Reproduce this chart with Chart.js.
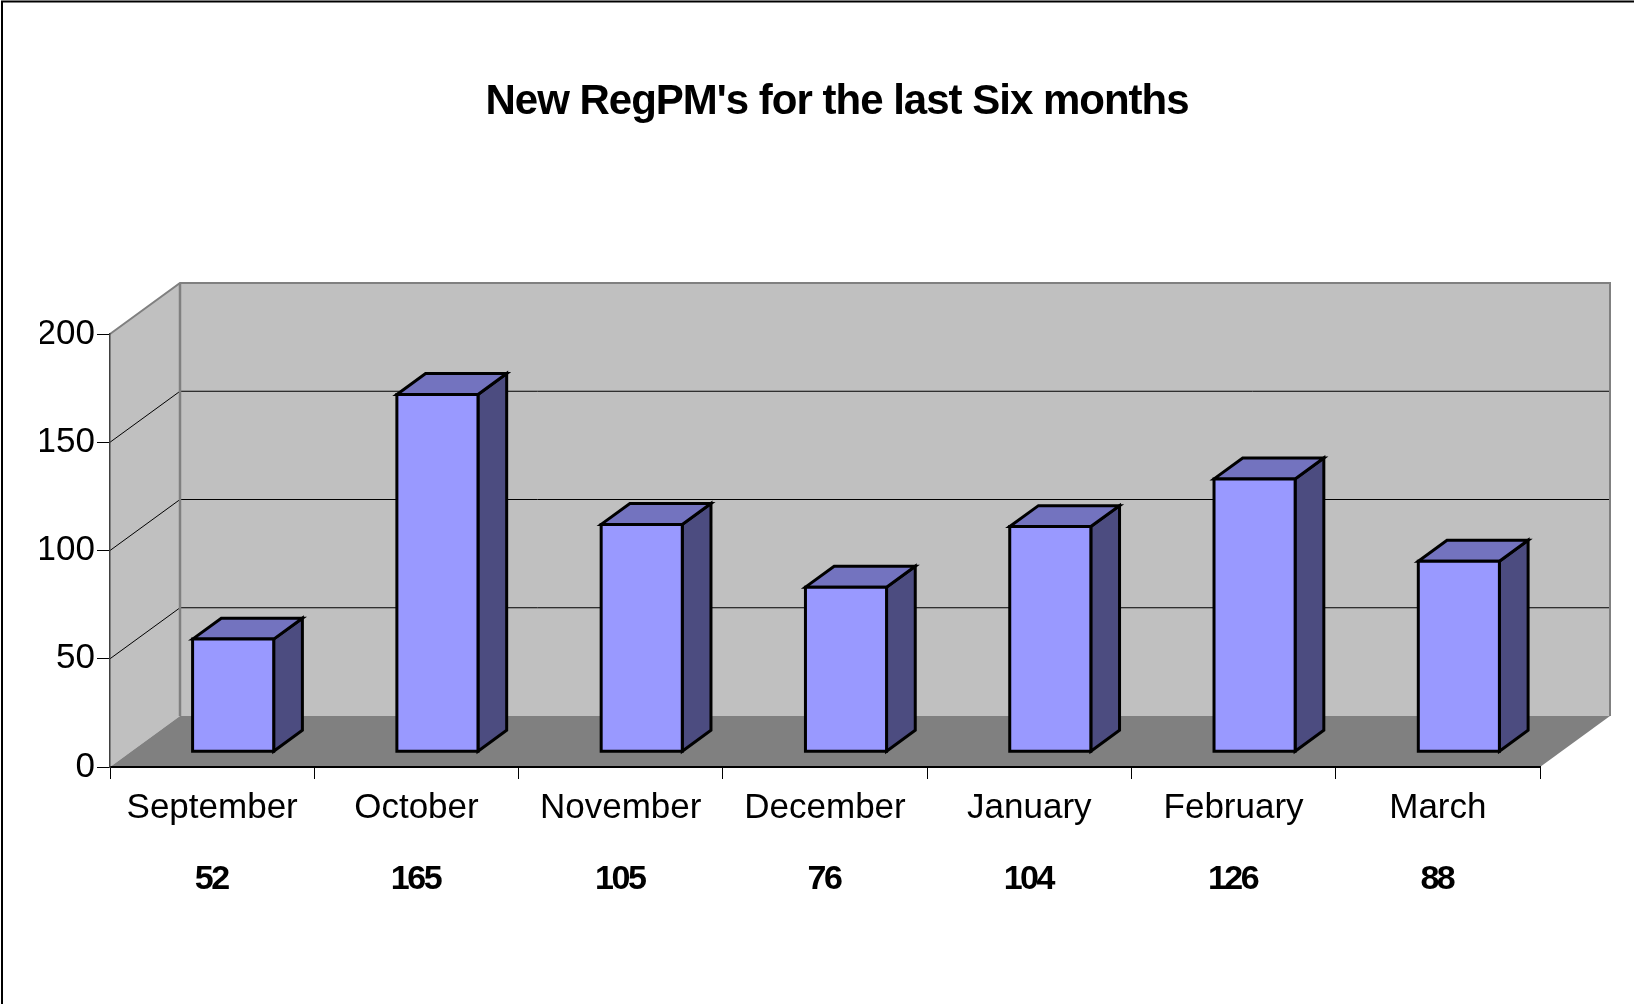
<!DOCTYPE html>
<html>
<head>
<meta charset="utf-8">
<script src="https://cdn.jsdelivr.net/npm/chart.js@4.4.1/dist/chart.umd.min.js"></script>
<style>
  html, body { margin: 0; padding: 0; background: #ffffff; }
  canvas { display: block; }
</style>
</head>
<body>
<canvas id="c" width="1634" height="1004" style="width:1634px;height:1004px"></canvas>
<script>
// ---- data ----
const titleText = "New RegPM's for the last Six months";
const categories = ['September', 'October', 'November', 'December', 'January', 'February', 'March'];
const values = [52, 165, 105, 76, 104, 126, 88];
const valueLabels = ['52', '165', '105', '76', '104', '126', '88'];
const yTicks = [0, 50, 100, 150, 200];

// ---- styling / 3D geometry ----
const FONT = "'Liberation Sans', Arial, sans-serif";
const DX = 70, DY = 51;          // depth offset of back wall
const D_FRONT = 0.3, D_BACK = 0.71; // bar depth range
const WALL = '#C0C0C0', FLOOR = '#808080', EDGE = '#808080';
const BAR_FRONT = '#9999FF', BAR_TOP = '#7373BF', BAR_SIDE = '#4C4C80';

function poly(ctx, pts, fill, stroke, lw) {
  ctx.beginPath();
  ctx.moveTo(pts[0][0], pts[0][1]);
  for (let i = 1; i < pts.length; i++) ctx.lineTo(pts[i][0], pts[i][1]);
  ctx.closePath();
  if (fill) { ctx.fillStyle = fill; ctx.fill(); }
  if (stroke) { ctx.strokeStyle = stroke; ctx.lineWidth = lw; ctx.stroke(); }
}
function line(ctx, pts, color, lw) {
  ctx.beginPath();
  ctx.moveTo(pts[0][0], pts[0][1]);
  for (let i = 1; i < pts.length; i++) ctx.lineTo(pts[i][0], pts[i][1]);
  ctx.strokeStyle = color; ctx.lineWidth = lw; ctx.stroke();
}

const box3d = {
  id: 'box3d',
  beforeDraw(chart) {
    const { ctx, chartArea: a, scales: { y } } = chart;
    const L = a.left, R = a.right;
    const T = y.getPixelForValue(yTicks[yTicks.length - 1]);
    const B = y.getPixelForValue(yTicks[0]);
    ctx.save();
    // outer frame (left + top visible)
    line(ctx, [[2, 1004], [2, 1.5], [1634, 1.5]], '#000', 2);
    // walls and floor
    poly(ctx, [[L, B], [L, T], [L + DX, T - DY], [L + DX, B - DY]], WALL);
    poly(ctx, [[L + DX, T - DY], [R + DX, T - DY], [R + DX, B - DY], [L + DX, B - DY]], WALL);
    poly(ctx, [[L, B], [R, B], [R + DX, B - DY], [L + DX, B - DY]], FLOOR);
    // gridlines
    yTicks.forEach(v => {
      if (v === yTicks[0] || v === yTicks[yTicks.length - 1]) return;
      const p = y.getPixelForValue(v);
      line(ctx, [[L, p], [L + DX, p - DY], [R + DX, p - DY]], '#000', 1);
    });
    // wall edges
    line(ctx, [[L, T], [L + DX, T - DY], [R + DX, T - DY], [R + DX, B - DY]], EDGE, 2);
    line(ctx, [[L + DX, T - DY], [L + DX, B - DY]], EDGE, 2.5);
    ctx.restore();
    ctx.letterSpacing = '-1px';
  },
  beforeDatasetsDraw(chart) {
    chart.ctx.letterSpacing = '0px';
  },
  afterDatasetsDraw(chart) {
    const { ctx, scales: { x } } = chart;
    const meta = chart.getDatasetMeta(0);
    ctx.save();
    ctx.lineJoin = 'miter';
    meta.data.forEach(bar => {
      const { x: cx, y: top, base, width } = bar.getProps(['x', 'y', 'base', 'width'], true);
      const l = cx - width / 2, r = cx + width / 2;
      const f = (px, py) => [px + DX * D_FRONT, py - DY * D_FRONT];
      const k = (px, py) => [px + DX * D_BACK, py - DY * D_BACK];
      poly(ctx, [f(r, top), k(r, top), k(r, base), f(r, base)], BAR_SIDE, '#000', 3);
      poly(ctx, [f(l, top), k(l, top), k(r, top), f(r, top)], BAR_TOP, '#000', 3);
      poly(ctx, [f(l, base), f(l, top), f(r, top), f(r, base)], BAR_FRONT, '#000', 3);
    });
    // value row
    ctx.fillStyle = '#000';
    ctx.font = 'bold 34px ' + FONT;
    ctx.textAlign = 'center';
    ctx.textBaseline = 'middle';
    ctx.letterSpacing = '-2.5px';
    valueLabels.forEach((t, i) => {
      ctx.fillText(t, x.getPixelForValue(i) - 1, 880);
    });
    ctx.letterSpacing = '0px';
    ctx.restore();
  }
};

new Chart(document.getElementById('c'), {
  type: 'bar',
  plugins: [box3d],
  data: {
    labels: categories,
    datasets: [{
      data: values,
      backgroundColor: 'rgba(0,0,0,0)',
      borderWidth: 0,
      categoryPercentage: 1,
      barPercentage: 0.397
    }]
  },
  options: {
    responsive: false,
    animation: false,
    devicePixelRatio: 1,
    layout: { padding: { left: 40, right: 0, top: 0, bottom: 0 } },
    plugins: {
      legend: { display: false },
      tooltip: { enabled: false },
      title: {
        display: true,
        text: titleText,
        color: '#000',
        font: { family: FONT, size: 42, weight: 'bold' },
        padding: { top: 77, bottom: 206.6 }
      }
    },
    scales: {
      x: {
        type: 'category',
        offset: true,
        grid: { display: true, drawOnChartArea: false, drawTicks: true, tickLength: 12, color: '#000', lineWidth: 1, offset: true },
        border: { display: true, color: '#000', width: 2 },
        ticks: { color: '#000', font: { family: FONT, size: 35 }, padding: 8, maxRotation: 0, autoSkip: false, z: 1 },
        afterFit(s) { s.height = 237; }
      },
      y: {
        min: yTicks[0],
        max: yTicks[yTicks.length - 1],
        afterBuildTicks(s) { s.ticks = yTicks.map(v => ({ value: v })); },
        grid: { display: true, drawOnChartArea: false, drawTicks: true, tickLength: 13, color: '#000', lineWidth: 1 },
        border: { display: true, color: '#404040', width: 1.5 },
        ticks: { color: '#000', font: { family: FONT, size: 35 }, padding: 2, z: 1 },
        afterFit(s) { s.width = 70; }
      },
      yRight: {
        position: 'right',
        display: true,
        grid: { display: false, drawTicks: false },
        border: { display: false },
        ticks: { display: false },
        afterFit(s) { s.width = 94; }
      }
    }
  }
});
</script>
</body>
</html>
